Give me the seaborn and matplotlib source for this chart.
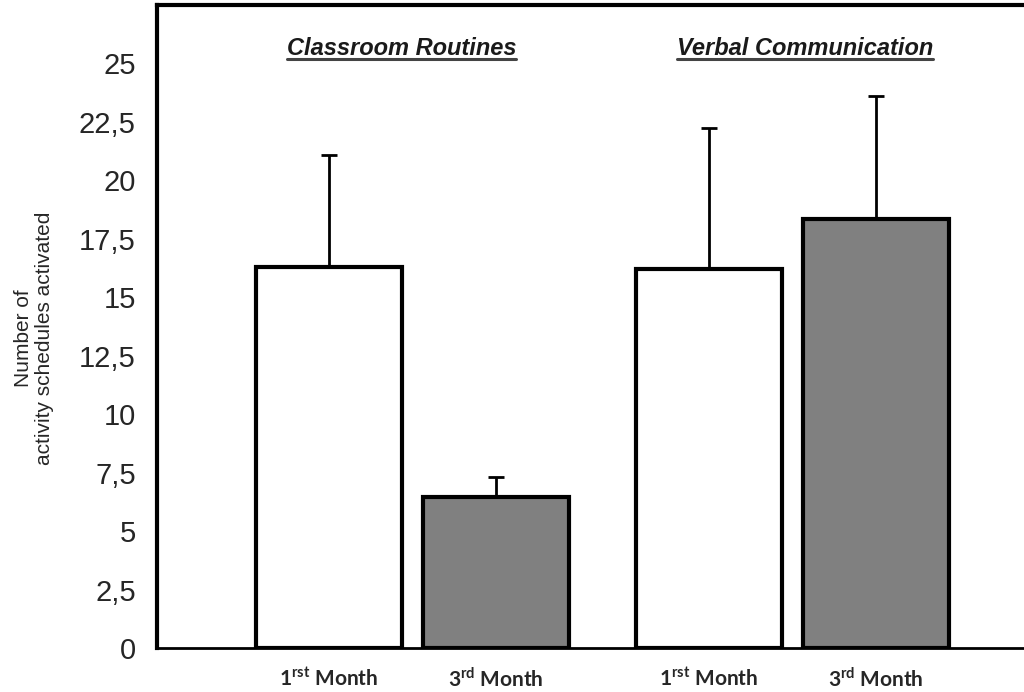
import matplotlib
matplotlib.use("Agg")
import matplotlib.pyplot as plt
import seaborn as sns
import pandas as pd
import numpy as np

# Data
groups = ["Classroom Routines", "Classroom Routines", "Verbal Communication", "Verbal Communication"]
months = ["1st Month", "3rd Month", "1st Month", "3rd Month"]
means = [16.3, 6.45, 16.2, 18.35]
errors = [4.8, 0.85, 6.05, 5.25]
positions = [0.0, 1.0, 2.275, 3.275]
xtick_labels = [r"1$^{\mathbf{rst}}$ Month", r"3$^{\mathbf{rd}}$ Month",
                r"1$^{\mathbf{rst}}$ Month", r"3$^{\mathbf{rd}}$ Month"]
yticks = [0, 2.5, 5, 7.5, 10, 12.5, 15, 17.5, 20, 22.5, 25]
ytick_labels = ["0", "2,5", "5", "7,5", "10", "12,5", "15", "17,5", "20", "22,5", "25"]
group_titles = ["Classroom Routines", "Verbal Communication"]
title_x = [0.434, 2.85]

sns.set_style("white")
plt.rcParams["font.family"] = ["Liberation Sans", "DejaVu Sans"]
plt.rcParams["mathtext.fontset"] = "custom"
plt.rcParams["mathtext.bf"] = "Lato:bold"
plt.rcParams["mathtext.rm"] = "Lato"

df = pd.DataFrame({"pos": positions, "value": means, "month": months, "group": groups})

fig = plt.figure(figsize=(10.24, 6.92), dpi=100)
ax = fig.add_axes([0.153, 0.0636, 0.847, 0.9292])

sns.barplot(data=df, x="pos", y="value", hue="month", native_scale=True,
            palette={"1st Month": "white", "3rd Month": "#808080"},
            width=0.875, dodge=False, errorbar=None, legend=False,
            edgecolor="black", linewidth=3, ax=ax)

ax.errorbar(positions, means, yerr=[np.zeros(len(means)), errors], fmt="none",
            ecolor="black", elinewidth=2, capsize=6, capthick=2, zorder=1)

ax.set_xlim(-1.03, 4.16)
ax.set_ylim(0, 27.5)
ax.set_yticks(yticks)
ax.set_yticklabels(ytick_labels, fontsize=21)
ax.set_xticks(positions)
ax.set_xticklabels(xtick_labels, fontsize=15, fontweight="bold", family=["Lato", "DejaVu Sans"])
ax.set_xlabel("")
ax.set_ylabel("Number of\nactivity schedules activated", fontsize=15, linespacing=1.15)
ax.yaxis.set_label_coords(-0.118, 0.482)

ax.tick_params(axis="y", direction="inout", length=10, width=2, pad=10)
ax.tick_params(axis="x", direction="out", length=4, width=1.5, pad=10)

for s in ["left", "top"]:
    ax.spines[s].set_linewidth(3)
    ax.spines[s].set_color("black")
ax.spines["bottom"].set_linewidth(2)
ax.spines["bottom"].set_color("black")
ax.spines["right"].set_visible(False)

texts = []
for tx, t in zip(title_x, group_titles):
    texts.append(ax.text(tx, 25.36, t, ha="center", va="baseline", fontsize=17,
                         fontweight="bold", fontstyle="italic", color="#1a1a1a"))

fig.canvas.draw()
inv = ax.transData.inverted()
for t in texts:
    bb = t.get_window_extent()
    (x0, y0), (x1, y1) = inv.transform([(bb.x0, bb.y0), (bb.x1, bb.y0)])
    yline = 25.19
    ax.plot([x0, x1], [yline, yline], color="#444444", lw=2.2, clip_on=False)

fig.savefig("out.png", dpi=100)
